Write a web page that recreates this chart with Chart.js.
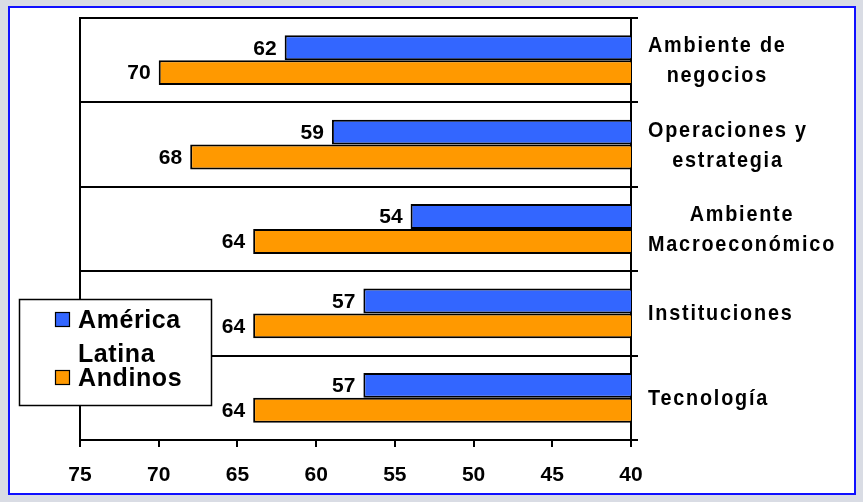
<!DOCTYPE html>
<html>
<head>
<meta charset="utf-8">
<script src="https://cdn.jsdelivr.net/npm/chart.js@4/dist/chart.umd.min.js"></script>
<style>
html,body{margin:0;padding:0;background:#d9dce4;}
#wrap{position:relative;width:863px;height:502px;}
</style>
</head>
<body>
<div id="wrap"><canvas id="c" width="863" height="502"></canvas></div>
<script>
const categories = [["Ambiente de","negocios"],["Operaciones y","estrategia"],["Ambiente","Macroeconómico"],"Instituciones","Tecnología"];
const americaLatina = [62, 59, 54, 57, 57];
const andinos = [70, 68, 64, 64, 64];
const xTicks = [75, 70, 65, 60, 55, 50, 45, 40];
const seriesNames = ["América Latina", "Andinos"];

const FONT = "'Liberation Sans', Arial, sans-serif";

const custom = {
  id: 'custom',
  beforeDraw(chart) {
    const ctx = chart.ctx;
    ctx.save();
    ctx.fillStyle = '#d9dce4';
    ctx.fillRect(0, 0, chart.width, chart.height);
    ctx.fillStyle = '#ffffff';
    ctx.fillRect(8, 6, 847, 488);
    ctx.strokeStyle = '#1010ff';
    ctx.lineWidth = 2;
    ctx.strokeRect(9, 7, 846, 487);
    ctx.restore();
  },
  afterDraw(chart) {
    const ctx = chart.ctx;
    const a = chart.chartArea;
    ctx.save();
    ctx.strokeStyle = '#000';
    ctx.lineWidth = 2;
    ctx.beginPath();
    ctx.moveTo(a.left, a.bottom);
    ctx.lineTo(a.left, a.top);
    ctx.lineTo(a.right, a.top);
    ctx.stroke();

    const ys = chart.scales.y;
    const SX = 0.9;
    const LS = 2;
    ctx.fillStyle = '#000';
    ctx.font = 'bold 22px ' + FONT;
    ctx.letterSpacing = LS + 'px';
    ctx.textAlign = 'left';
    ctx.textBaseline = 'alphabetic';
    chart.data.labels.forEach((lab, i) => {
      const lines = Array.isArray(lab) ? lab : [lab];
      const widths = lines.map(l => (ctx.measureText(l).width - LS) * SX);
      const bw = Math.max(...widths);
      const cy = ys.getPixelForValue(i);
      lines.forEach((l, j) => {
        const y = cy + (j - (lines.length - 1) / 2) * 30 + 7;
        ctx.save();
        ctx.translate(648 + (bw - widths[j]) / 2, y);
        ctx.scale(SX, 1);
        ctx.fillText(l, 0, 0);
        ctx.restore();
      });
    });
    ctx.letterSpacing = '0px';

    ctx.font = 'bold 21px ' + FONT;
    ctx.textAlign = 'right';
    ctx.textBaseline = 'middle';
    chart.data.datasets.forEach((ds, di) => {
      const meta = chart.getDatasetMeta(di);
      meta.data.forEach((bar, i) => {
        ctx.fillText(String(ds.data[i]), bar.x - 8, bar.y + 1);
      });
    });

    ctx.fillStyle = '#fff';
    ctx.fillRect(19, 299, 193, 107);
    ctx.strokeStyle = '#000';
    ctx.lineWidth = 1.5;
    ctx.strokeRect(19.5, 299.5, 192, 106);
    ctx.font = 'bold 25px ' + FONT;
    ctx.letterSpacing = '0.6px';
    ctx.textAlign = 'left';
    ctx.textBaseline = 'alphabetic';
    let baseline = 328;
    chart.data.datasets.forEach((ds, di) => {
      const words = ds.label.split(' ');
      const lines = [];
      let cur = '';
      words.forEach(w => {
        const t = cur ? cur + ' ' + w : w;
        if (cur && ctx.measureText(t).width > 128) { lines.push(cur); cur = w; }
        else cur = t;
      });
      if (cur) lines.push(cur);
      const top = baseline - 16;
      ctx.fillStyle = ds.backgroundColor;
      ctx.fillRect(55, top, 15, 15);
      ctx.strokeStyle = '#000';
      ctx.lineWidth = 1.2;
      ctx.strokeRect(55.5, top + 0.5, 14, 14);
      ctx.fillStyle = '#000';
      lines.forEach((l, j) => {
        ctx.fillText(l, 78, baseline);
        if (j < lines.length - 1) baseline += 34;
      });
      baseline += 24;
    });
    ctx.restore();
  }
};

new Chart(document.getElementById('c'), {
  type: 'bar',
  data: {
    labels: categories,
    datasets: [
      { label: seriesNames[0], data: americaLatina, backgroundColor: '#3366ff', borderColor: '#000', borderWidth: 2, categoryPercentage: 0.59, barPercentage: 1.0 },
      { label: seriesNames[1], data: andinos, backgroundColor: '#ff9900', borderColor: '#000', borderWidth: 2, categoryPercentage: 0.59, barPercentage: 1.0 }
    ]
  },
  options: {
    indexAxis: 'y',
    responsive: false,
    animation: false,
    devicePixelRatio: 1,
    layout: { padding: { left: 80, top: 18, right: 0, bottom: 0 } },
    plugins: { legend: { display: false }, tooltip: { enabled: false } },
    scales: {
      x: {
        type: 'linear',
        position: 'bottom',
        reverse: true,
        min: 40,
        max: 75,
        afterBuildTicks(scale) { scale.ticks = xTicks.map(v => ({ value: v })); },
        afterFit(scale) { scale.height = 62; },
        ticks: { color: '#000', font: { family: FONT, size: 21, weight: 'bold' }, padding: 16, maxRotation: 0, autoSkip: false },
        grid: { drawOnChartArea: false, drawTicks: true, tickLength: 7, color: '#000', lineWidth: 2 },
        border: { color: '#000', width: 2 }
      },
      y: {
        type: 'category',
        position: 'right',
        offset: true,
        afterFit(scale) { scale.width = 232; },
        ticks: { display: false },
        grid: { offset: true, drawTicks: true, tickLength: 7, color: '#000', lineWidth: 2 },
        border: { color: '#000', width: 2 }
      }
    }
  },
  plugins: [custom]
});
</script>
</body>
</html>
